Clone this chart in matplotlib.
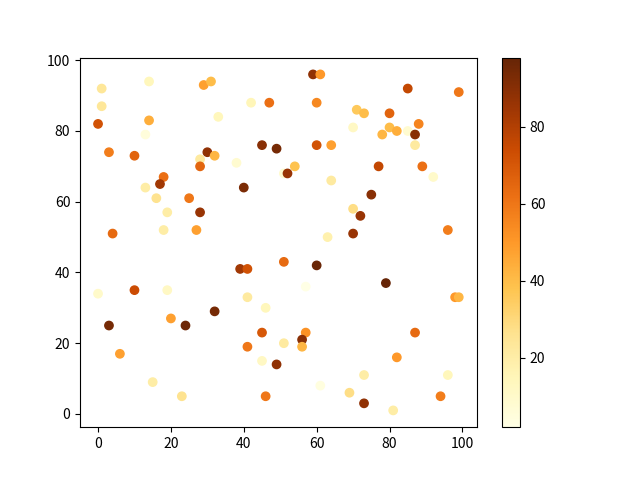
import numpy as np
import matplotlib
matplotlib.use("Agg")
import matplotlib.pyplot as plt

plt.rcParams['font.family'] = ['Noto Sans CJK SC', 'DejaVu Sans']

# point positions
x_vals = [1, 14, 29, 31, 1, 42, 47, 0, 14, 33, 13, 3, 10, 45, 49, 30, 28, 32, 38, 28,
          18, 17, 13, 16, 25, 40, 19, 28, 18, 27, 4,
          59, 61, 85, 99, 60, 71, 73, 80, 88, 70, 80, 82, 78, 85, 87, 87, 60, 64, 54,
          51, 52, 77, 89, 92, 64, 75, 70, 72, 96, 70, 63,
          39, 41, 0, 10, 19, 41, 46, 32, 3, 20, 24, 45, 41, 6, 45, 49, 15, 23, 46,
          51, 60, 57, 79, 98, 99, 57, 56, 51, 56, 87, 82, 73, 96, 61, 69, 94, 73, 81]
y_vals = [92, 94, 93, 94, 87, 88, 88, 82, 83, 84, 79, 74, 73, 76, 75, 74, 72, 73, 71, 70,
          67, 65, 64, 61, 61, 64, 57, 57, 52, 52, 51,
          96, 96, 92, 91, 88, 86, 85, 85, 82, 81, 81, 80, 79, 80, 79, 76, 76, 76, 70,
          68, 68, 70, 70, 67, 66, 62, 58, 56, 52, 51, 50,
          41, 41, 34, 35, 35, 33, 30, 29, 25, 27, 25, 23, 19, 17, 15, 14, 9, 5, 5,
          43, 42, 36, 37, 33, 33, 23, 21, 20, 19, 23, 16, 11, 11, 8, 6, 5, 3, 1]
c_vals = [24, 14, 48, 40, 24, 15, 62, 72, 44, 14, 5, 58, 66, 90, 94, 88, 22, 42, 8, 65,
          62, 84, 20, 26, 60, 93, 20, 86, 20, 48, 64,
          88, 50, 76, 60, 55, 36, 40, 66, 56, 12, 40, 44, 42, 8, 90, 22, 72, 48, 38,
          8, 86, 76, 62, 10, 22, 90, 28, 86, 58, 86, 18,
          84, 72, 10, 74, 12, 22, 14, 94, 94, 48, 96, 70, 60, 48, 12, 88, 20, 26, 60,
          64, 97, 2, 98, 50, 42, 52, 90, 22, 42, 64, 50, 20, 14, 4, 28, 58, 88, 20]

fig, ax = plt.subplots(figsize=(6.4, 4.8), dpi=100)
sc = ax.scatter(x_vals, y_vals, c=c_vals, cmap="YlOrBr")
fig.colorbar(sc, ax=ax)

fig.savefig("out.png")
